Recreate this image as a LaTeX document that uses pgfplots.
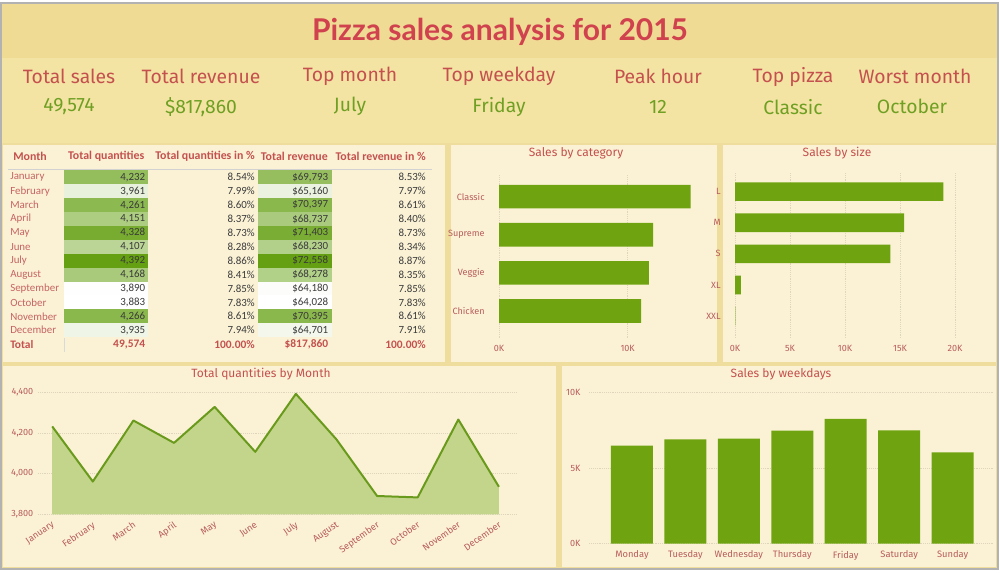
\documentclass[border=0pt]{standalone}
\usepackage{fontspec}
\setmainfont{Fira Sans}
\newfontfamily\tbl{Carlito}
\newfontfamily\ttl{Lato}
\usepackage{pgfplots}
\pgfplotsset{compat=1.18}

\definecolor{hdrA}{HTML}{EFDB94}
\definecolor{hdrB}{HTML}{F4E4A4}
\definecolor{gapc}{HTML}{EEDD9C}
\definecolor{panel}{HTML}{FBF2D6}
\definecolor{ttlred}{HTML}{D0424E}
\definecolor{kred}{HTML}{C4514E}
\definecolor{kgrn}{HTML}{6F9F23}
\definecolor{axred}{HTML}{B85C5A}
\definecolor{mred}{HTML}{C66462}
\definecolor{bargrn}{HTML}{6FA30F}
\definecolor{areaF}{HTML}{C3D58B}
\definecolor{areaL}{HTML}{6A9A1C}
\definecolor{cg}{HTML}{64A012}
\definecolor{gridc}{HTML}{DDD5BC}
\definecolor{numc}{HTML}{3A3A3A}

\pgfplotsset{pnl/.style={scale only axis, axis line style={draw=none},
  tick style={draw=none}, scaled ticks=false,
  tick label style={font=\fontsize{6.8}{8}\selectfont, text=axred},
  grid style={densely dotted, color=gridc, line width=0.6pt},
  /pgf/number format/assume math mode=true}}

% one table row: y(px), month, qty, qty shade, qty %, revenue, rev shade, rev %
\newcommand\trow[8]{%
  \fill[cg!#4!white] (64,{572-#1+6.95}) rectangle (148,{572-#1-6.95});
  \fill[cg!#7!white] (258,{572-#1+6.95}) rectangle (332,{572-#1-6.95});
  \node[tc,anchor=west,text=mred] at (10,{572-#1}) {#2};
  \node[tc,anchor=east] at (145.5,{572-#1}) {#3};
  \node[tc,anchor=east] at (255,{572-#1}) {#5};
  \node[tc,anchor=east] at (328.5,{572-#1}) {#6};
  \node[tc,anchor=east] at (426,{572-#1}) {#8};
}

\begin{document}
\begin{tikzpicture}[x=0.75pt,y=0.75pt,
  tc/.style={inner sep=0pt, font=\tbl\fontsize{8.2}{9}\selectfont, text=numc},
  th/.style={inner sep=0pt, font=\tbl\bfseries\fontsize{8.9}{10}\selectfont, text=kred},
  kl/.style={font=\fontsize{14.5}{16}\selectfont, text=kred},
  kv/.style={font=\fontsize{14.5}{16}\selectfont, text=kgrn},
  ct/.style={font=\fontsize{9}{10}\selectfont, text=kred}]
\useasboundingbox (0,0) rectangle (1000,572);
\fill[white] (0,0) rectangle (1000,572);
\fill[gapc] (1,3) rectangle (998,569);
\fill[hdrA] (1,514) rectangle (998,569);
\fill[hdrB] (1,429) rectangle (998,514);
\draw[gray!60, line width=0.8pt] (1,3) rectangle (998,569);

% panels
\fill[panel] (3,210) rectangle (445,427);
\fill[panel] (451,210) rectangle (717,427);
\fill[panel] (723,210) rectangle (996,427);
\fill[panel] (3,5) rectangle (556,206);
\fill[panel] (562,5) rectangle (996,206);

% title and KPI cards
\node[font=\ttl\bfseries\fontsize{22.5}{26}\selectfont, text=ttlred] at (500,539.7) {Pizza sales analysis for 2015};
\node[kl] at (69,495.3) {Total sales};
\node[kl] at (201,495.3) {Total revenue};
\node[kl] at (350,495.3) {Top month};
\node[kl] at (499,495.3) {Top weekday};
\node[kl] at (658,495.3) {Peak hour};
\node[kl] at (793,495.3) {Top pizza};
\node[kl] at (915,495.3) {Worst month};
\node[kv] at (69,465.3) {49,574};
\node[kv] at (201,465.3) {\$817,860};
\node[kv] at (350,465.3) {July};
\node[kv] at (499,465.3) {Friday};
\node[kv] at (658,465.3) {12};
\node[kv] at (793,465.3) {Classic};
\node[kv] at (912,465.3) {October};

% table
\node[th,anchor=west] at (13,416) {Month};
\node[th,anchor=east] at (144.5,416) {Total quantities};
\node[th,anchor=east] at (255,416) {Total quantities in \%};
\node[th,anchor=east] at (328,416) {Total revenue};
\node[th,anchor=east] at (426,416) {Total revenue in \%};
\draw[gray!35, line width=0.6pt] (8,403) -- (432,403);
\trow{177.3}{January}{4,232}{69}{8.54\%}{\$69,793}{68}{8.53\%}
\trow{191.2}{February}{3,961}{15}{7.99\%}{\$65,160}{13}{7.97\%}
\trow{205.1}{March}{4,261}{74}{8.60\%}{\$70,397}{75}{8.61\%}
\trow{219.0}{April}{4,151}{53}{8.37\%}{\$68,737}{55}{8.40\%}
\trow{232.9}{May}{4,328}{87}{8.73\%}{\$71,403}{86}{8.73\%}
\trow{246.8}{June}{4,107}{44}{8.28\%}{\$68,230}{49}{8.34\%}
\trow{260.7}{July}{4,392}{100}{8.86\%}{\$72,558}{100}{8.87\%}
\trow{274.6}{August}{4,168}{56}{8.41\%}{\$68,278}{50}{8.35\%}
\trow{288.5}{September}{3,890}{1}{7.85\%}{\$64,180}{2}{7.85\%}
\trow{302.4}{October}{3,883}{0}{7.83\%}{\$64,028}{0}{7.83\%}
\trow{316.3}{November}{4,266}{75}{8.61\%}{\$70,395}{75}{8.61\%}
\trow{330.2}{December}{3,935}{10}{7.94\%}{\$64,701}{8}{7.91\%}
\draw[gray!30, line width=0.6pt] (64,234) -- (64,220);
\node[th,anchor=west,font=\tbl\bfseries\fontsize{8.6}{9}\selectfont] at (10,227.4) {Total};
\node[th,anchor=east,font=\tbl\bfseries\fontsize{8.6}{9}\selectfont] at (145.5,227.4) {49,574};
\node[th,anchor=east,font=\tbl\bfseries\fontsize{8.6}{9}\selectfont] at (255,227.4) {100.00\%};
\node[th,anchor=east,font=\tbl\bfseries\fontsize{8.6}{9}\selectfont] at (328.5,227.4) {\$817,860};
\node[th,anchor=east,font=\tbl\bfseries\fontsize{8.6}{9}\selectfont] at (426,227.4) {100.00\%};

% chart titles
\node[ct] at (576,419) {Sales by category};
\node[ct] at (837,419) {Sales by size};
\node[ct] at (261,198) {Total quantities by Month};
\node[ct] at (781,198) {Sales by weekdays};

% sales by category
\begin{axis}[pnl, at={(374.25pt,175.5pt)}, anchor=south west,
  width=154.4pt, height=123.2pt,
  xbar, bar width=0.62,
  xmin=0, xmax=16000, ymin=-0.71, ymax=3.6,
  xtick={0,10000}, xticklabels={0K,10K},
  ytick={0,1,2,3}, yticklabels={Chicken,Veggie,Supreme,Classic},
  xmajorgrids,
  xticklabel style={yshift=-2pt}, yticklabel style={xshift=-3pt}]
\addplot[draw=none, fill=bargrn] coordinates {(11050,0) (11649,1) (11987,2) (14888,3)};
\end{axis}

% sales by size
\begin{axis}[pnl, at={(551.25pt,175.65pt)}, anchor=south west,
  width=169.1pt, height=123.6pt,
  xbar, bar width=0.6,
  xmin=0, xmax=20500, ymin=-0.7, ymax=4.6,
  xtick={0,5000,10000,15000,20000}, xticklabels={0K,5K,10K,15K,20K},
  ytick={0,1,2,3,4}, yticklabels={XXL,XL,S,M,L},
  xmajorgrids,
  xticklabel style={yshift=-2pt}, yticklabel style={xshift=-3pt}]
\addplot[draw=none, fill=bargrn] coordinates {(28,0) (544,1) (14137,2) (15385,3) (18956,4)};
\end{axis}

% total quantities by month
\begin{axis}[pnl, at={(28.5pt,43.275pt)}, anchor=south west,
  width=359.4pt, height=94.6pt,
  xmin=-0.35, xmax=11.45, ymin=3800, ymax=4420,
  xtick={0,...,11},
  xticklabels={January,February,March,April,May,June,July,August,September,October,November,December},
  xticklabel style={rotate=35, anchor=north east, font=\fontsize{7}{8}\selectfont},
  ytick={3800,4000,4200,4400}, yticklabels={{3,800},{4,000},{4,200},{4,400}},
  ymajorgrids]
\addplot[draw=none, fill=areaF] coordinates {(0,3800) (0,4232) (1,3961) (2,4261) (3,4151) (4,4328) (5,4107) (6,4392) (7,4168) (8,3890) (9,3883) (10,4266) (11,3935) (11,3800)} -- cycle;
\addplot[areaL, line width=1.5pt, line join=round] coordinates {(0,4232) (1,3961) (2,4261) (3,4151) (4,4328) (5,4107) (6,4392) (7,4168) (8,3890) (9,3883) (10,4266) (11,3935)};
\end{axis}

% sales by weekdays
\begin{axis}[pnl, at={(441.9pt,21.225pt)}, anchor=south west,
  width=302.6pt, height=115.8pt,
  ybar, bar width=0.786,
  xmin=-0.8, xmax=6.75, ymin=0, ymax=10200,
  xtick={0,...,6},
  xticklabels={Monday,Tuesday,Wednesday,Thursday,Friday,Saturday,Sunday},
  xticklabel style={font=\fontsize{7}{8}\selectfont, yshift=2.5pt},
  ytick={0,5000,10000}, yticklabels={0K,5K,10K},
  ymajorgrids, yticklabel style={xshift=-3pt}]
\addplot[draw=none, fill=bargrn] coordinates {(0,6485) (1,6895) (2,6946) (3,7478) (4,8242) (5,7493) (6,6035)};
\end{axis}
\end{tikzpicture}
\end{document}
